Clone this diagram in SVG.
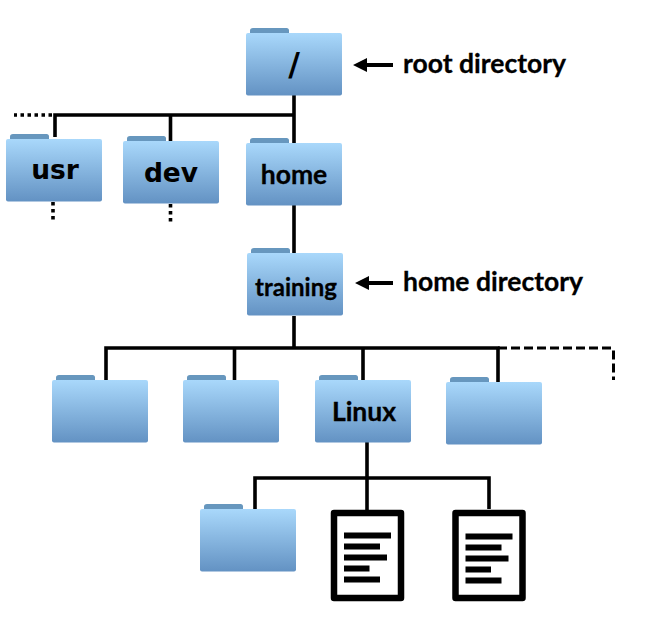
<svg xmlns="http://www.w3.org/2000/svg" width="670" height="636" viewBox="0 0 670 636">
<style>
text{font-weight:700;fill:#000;text-anchor:middle}
.dj{font-family:"DejaVu Sans",sans-serif;font-size:26.500px}
.ca{font-family:Lato,"Liberation Sans",sans-serif;font-size:26.500px;stroke:#000;stroke-width:.3}
.lb{text-anchor:start;font-family:Lato,"Liberation Sans",sans-serif;font-size:26.500px;stroke:#000;stroke-width:.3}
.ln{fill:none;stroke:#000;stroke-width:3.600}
.dot{fill:none;stroke:#000;stroke-width:3.600;stroke-dasharray:3.500 3.500}
.dash{fill:none;stroke:#000;stroke-width:3;stroke-dasharray:9 4}
.doc{fill:#fff;stroke:#000;stroke-width:6.500;stroke-linejoin:round}
</style>
<defs>
<linearGradient id="fg" x1="0" y1="0" x2="0" y2="1"><stop offset="0" stop-color="#a9d8fb"/><stop offset="1" stop-color="#6392c3"/></linearGradient>
<g id="folder">
<path d="M4 5.500V2.500Q4 0 7 0H40.500Q43 0 43 2.500V5.500Z" fill="#6797be"/>
<rect x="0" y="5" width="96" height="62.500" rx="2" fill="url(#fg)"/>
</g>
<g id="lines" fill="#000">
<rect x="0" y="0" width="47" height="6"/><rect x="0" y="11" width="36" height="6"/><rect x="0" y="22" width="43" height="6"/><rect x="0" y="33" width="25.500" height="6"/><rect x="0" y="44" width="36" height="6"/>
</g>
</defs>
<g id="connectors">
<path class="ln" d="M294 94V144M55 137V115H294M170.500 115V141M294 205V254M294 316V348M106 380V348H498V382M234.500 348V380M363 348V380M367 442V478M255 509V478H489V509"/>
<path class="ln" d="M367 478V510"/>
<path class="dot" d="M53 202V220M170.500 204V222M52 115H14"/>
<path class="dash" d="M498 348H612Q613.500 348 613.500 350V380"/>
<path d="M353 65L367 58V63H393V67H367V72Z" fill="#000"/>
<path d="M355 283L369 276V281H393V285H369V290Z" fill="#000"/>
</g>
<g id="root"><use href="#folder" x="246" y="28"/><text class="dj" x="294" y="75" style="font-size:32px">/</text></g>
<g id="usr"><use href="#folder" x="6" y="134"/><text class="dj" x="55" y="179">usr</text></g>
<g id="dev"><use href="#folder" x="123" y="136"/><text class="dj" x="171" y="181.500">dev</text></g>
<g id="home"><use href="#folder" x="246" y="138"/><text class="ca" x="294" y="184">home</text></g>
<g id="training"><use href="#folder" x="247" y="248"/><text class="ca" x="296" y="296" style="font-size:24px">training</text></g>
<g id="folder1"><use href="#folder" x="52" y="375"/></g>
<g id="folder2"><use href="#folder" x="183" y="375"/></g>
<g id="linux"><use href="#folder" x="315" y="375"/><text class="ca" x="364" y="421">Linux</text></g>
<g id="folder4"><use href="#folder" x="446" y="377"/></g>
<g id="folder5"><use href="#folder" x="200" y="504"/></g>
<g id="doc1"><rect class="doc" x="334" y="513" width="67" height="85"/><use href="#lines" x="344" y="532.500"/></g>
<g id="doc2"><rect class="doc" x="455.500" y="513" width="67" height="85"/><use href="#lines" x="465.500" y="533.500"/></g>
<g id="label-root"><text class="lb" x="403" y="73">root directory</text></g>
<g id="label-home"><text class="lb" x="403" y="291">home directory</text></g>
</svg>
